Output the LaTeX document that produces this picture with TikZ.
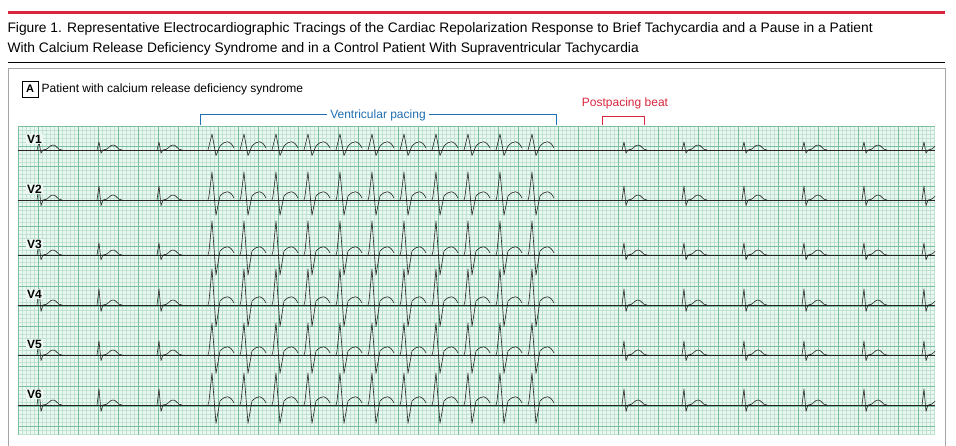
\documentclass[tikz,border=0pt]{standalone}
\usepackage{fontspec}
\setmainfont{Liberation Sans}
\definecolor{jred}{HTML}{D7263D}
\definecolor{jblue}{HTML}{1F6FB2}
\definecolor{gsmall}{HTML}{BFE3D2}
\definecolor{gbig}{HTML}{79BFA0}
\tikzset{ecg/.style={black!85,line width=0.6pt,line join=round},
  brk/.style={line width=1pt},
  lead/.style={font=\fontsize{12}{12}\selectfont\bfseries,fill=gsmall!30,inner sep=1pt}}
% normal beat, pacing beat
\newcommand\nbeat[3]{\draw[ecg] (#1-3,#2) -- ++(2,-#3) -- ++(2,1.4*#3) -- ++(2,-0.4*#3) .. controls ++(6,0) and ++(-4,0) .. ++(10,-5) .. controls ++(4,0) and ++(-5,0) .. ++(9,5);}
\newcommand\pbeat[3]{\draw[ecg] (#1-4,#2) -- ++(1,-4) -- ++(3,-#3) -- ++(4,1.8*#3) -- ++(4,-0.8*#3) .. controls ++(6,-6) and ++(-4,-8) .. ++(14,2);}
\begin{document}
\begin{tikzpicture}[x=1pt,y=-1pt]
\useasboundingbox (0,0) rectangle (956,446);
\draw[jred,line width=3pt] (8,13) -- (945,13);
\node[anchor=west,font=\fontsize{13.8}{13.8}\selectfont] (t1) at (4,29) {Figure 1. Representative Electrocardiographic Tracings of the Cardiac Repolarization Response to Brief Tachycardia and a Pause in a Patient};
\node[anchor=west,font=\fontsize{13.8}{13.8}\selectfont] (t2) at (4,49) {With Calcium Release Deficiency Syndrome and in a Control Patient With Supraventricular Tachycardia};
\draw[line width=0.8pt] (8,62) -- (945,62);
\draw[black!35] (8,446) -- (8,68) -- (945,68) -- (945,446);
\node[draw,font=\fontsize{11}{11}\selectfont\bfseries,minimum size=16pt,inner sep=0pt] (pa) at (30,89) {A};
\node[anchor=west,font=\fontsize{12}{12}\selectfont] (pt) at (pa.east) {Patient with calcium release deficiency syndrome};
% brackets
\node[jblue,font=\fontsize{12}{12}\selectfont,fill=white] (vp) at (378,115) {Ventricular pacing};
\draw[jblue,brk] (200,125) -- (200,115) -- (vp.west);
\draw[jblue,brk] (vp.east) -- (556,115) -- (556,125);
\node[jred,font=\fontsize{12}{12}\selectfont] (pb) at (625,103) {Postpacing beat};
\draw[jred,brk] (602,125) -- (602,117) -- (644,117) -- (644,125);
% grid
\fill[gsmall!30] (18,126) rectangle (935,435);
\foreach \gx in {18,22,...,934} \draw[gsmall,line width=0.4pt] (\gx,126) -- (\gx,435);
\foreach \gy in {126,130,...,435} \draw[gsmall,line width=0.4pt] (18,\gy) -- (935,\gy);
\foreach \gx in {18,38,...,934} \draw[gbig,line width=0.5pt] (\gx,126) -- (\gx,435);
\foreach \gy in {126,146,...,435} \draw[gbig,line width=0.5pt] (18,\gy) -- (935,\gy);
% leads
\begin{scope}
\clip (18,126) rectangle (935,435);
\foreach \lbl/\y/\a/\p [count=\i] in {V1/150/8/12, V2/200/14/24, V3/255/12/30, V4/305/16/32, V5/355/14/28, V6/405/16/28}{
  \draw[ecg] (18,\y) -- (935,\y);
  \foreach \bx in {40,100,160,625,685,745,805,865,925}{\nbeat{\bx}{\y}{\a}}
  \foreach \k in {0,...,10}{\pbeat{212+32*\k}{\y}{\p}}
  \node[lead,anchor=west] (l\i) at (26,\y-11) {\lbl};
}
\end{scope}
\end{tikzpicture}
\end{document}
